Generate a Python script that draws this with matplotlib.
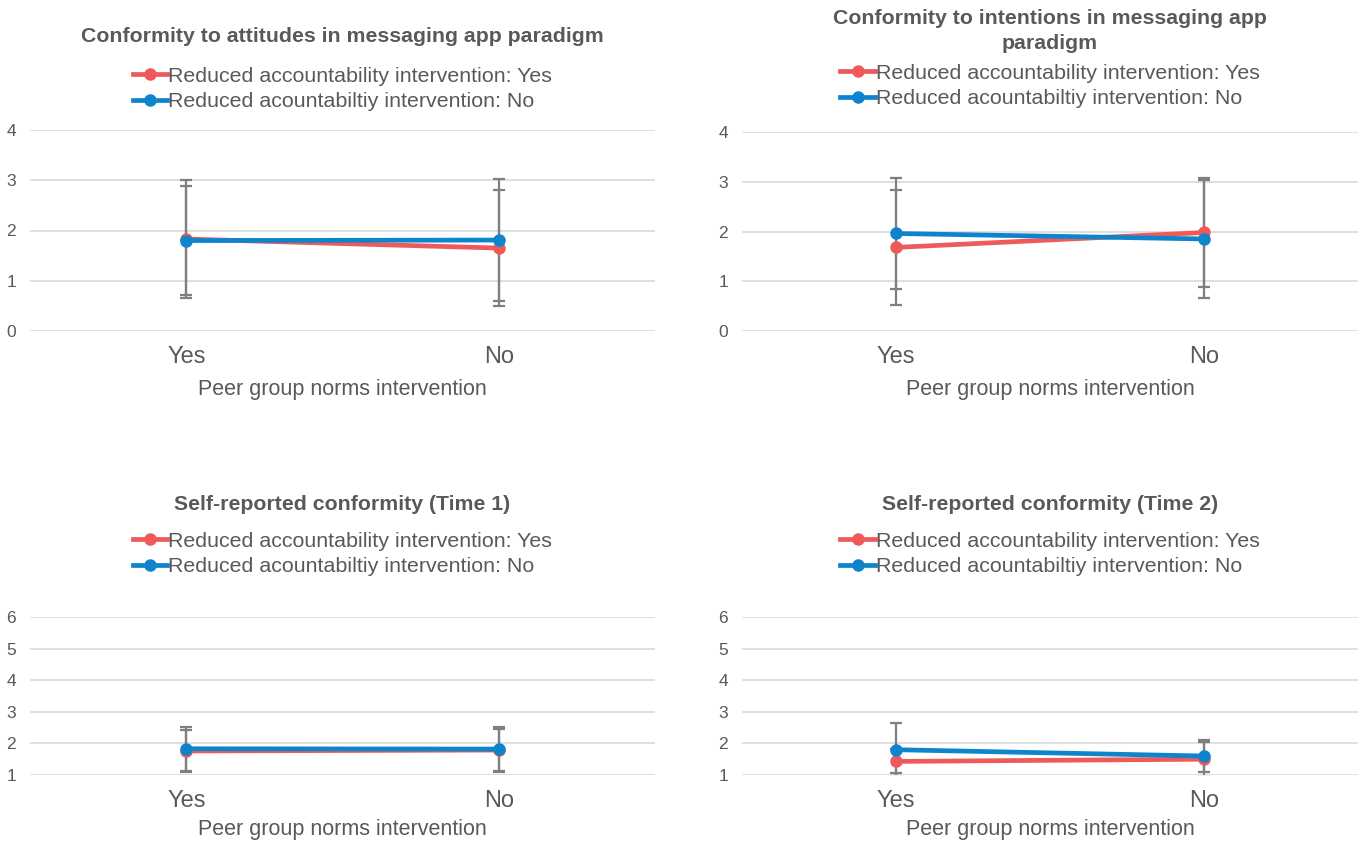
import matplotlib
matplotlib.use('Agg')
import matplotlib.pyplot as plt
import numpy as np

plt.rcParams['font.family'] = ['Liberation Sans', 'DejaVu Sans']

# data
categories = ['Yes', 'No']
series_names = ['Reduced accountability intervention: Yes',
                'Reduced acountabiltiy intervention: No']
titles = ['Conformity to attitudes in messaging app paradigm',
          'Conformity to intentions in messaging app\nparadigm',
          'Self-reported conformity (Time 1)',
          'Self-reported conformity (Time 2)']
x_label = 'Peer group norms intervention'

red_means = [[1.83, 1.65], [1.68, 1.98], [1.76, 1.79], [1.43, 1.50]]
red_err = [[1.17, 1.15], [1.15, 1.09], [0.66, 0.68], [0.38, 0.55]]
blue_means = [[1.80, 1.81], [1.96, 1.85], [1.83, 1.82], [1.80, 1.60]]
blue_err = [[1.08, 1.21], [1.11, 1.18], [0.70, 0.69], [0.85, 0.50]]

y_limits = [(0, 4), (0, 4), (1, 6), (1, 6)]

RED = '#EE5A5A'
BLUE = '#0E84CC'
TEXT = '#595959'
GRID = '#D9D9D9'
ERR = '#7F7F7F'

W, H = 1363, 841
fig = plt.figure(figsize=(W / 100, H / 100), dpi=100)

def fx(x):
    return x / W

def fy(y):
    return 1 - y / H

# axes boxes in pixels: left, right, top, bottom
boxes = [(30, 655, 130, 331), (742, 1358, 132, 331),
         (30, 655, 617, 775), (742, 1358, 617, 775)]
title_y = [37, 31, 505, 505]
legend_y = [89, 86, 554, 554]
label_pad = [8, 8, 5, 5]

for i in range(4):
    l, r, t, b = boxes[i]
    ax = fig.add_axes([fx(l), fy(b), fx(r - l), (b - t) / H])
    x = np.arange(len(categories))

    ax.errorbar(x, red_means[i], yerr=red_err[i], fmt='none', ecolor=ERR,
                elinewidth=1.6, capsize=4, capthick=1.6, zorder=2)
    ax.errorbar(x, blue_means[i], yerr=blue_err[i], fmt='none', ecolor=ERR,
                elinewidth=1.6, capsize=4, capthick=1.6, zorder=2)
    ax.plot(x, red_means[i], color=RED, lw=3.4, marker='o', ms=8,
            label=series_names[0], zorder=3)
    ax.plot(x, blue_means[i], color=BLUE, lw=3.4, marker='o', ms=8,
            label=series_names[1], zorder=4)

    ax.set_xlim(-0.5, 1.5)
    ax.set_ylim(*y_limits[i])
    ax.set_yticks(np.arange(y_limits[i][0], y_limits[i][1] + 1))
    ax.set_xticks(x)
    ax.set_xticklabels(categories, fontsize=17, color=TEXT)
    ax.tick_params(axis='x', length=0, pad=11)
    ax.tick_params(axis='y', length=0, pad=10, labelsize=12.5, labelcolor=TEXT)
    ax.set_xlabel(x_label, fontsize=15.5, color=TEXT, labelpad=label_pad[i])
    ax.grid(axis='y', color=GRID, lw=1.2)
    ax.set_axisbelow(True)
    for s in ax.spines.values():
        s.set_visible(False)

    cx = (l + r) / 2
    fig.text(fx(cx), fy(title_y[i]), titles[i], ha='center', va='center',
             fontsize=15.3, fontweight='bold', color=TEXT, linespacing=1.35)
    h, lab = ax.get_legend_handles_labels()
    fig.legend(h, lab, loc='center', bbox_to_anchor=(fx(cx), fy(legend_y[i])),
               frameon=False, fontsize=15.4, labelcolor=TEXT, handlelength=1.6,
               handletextpad=0.05, labelspacing=0.3, borderpad=0)

fig.savefig('out.png', dpi=100, facecolor='white')
